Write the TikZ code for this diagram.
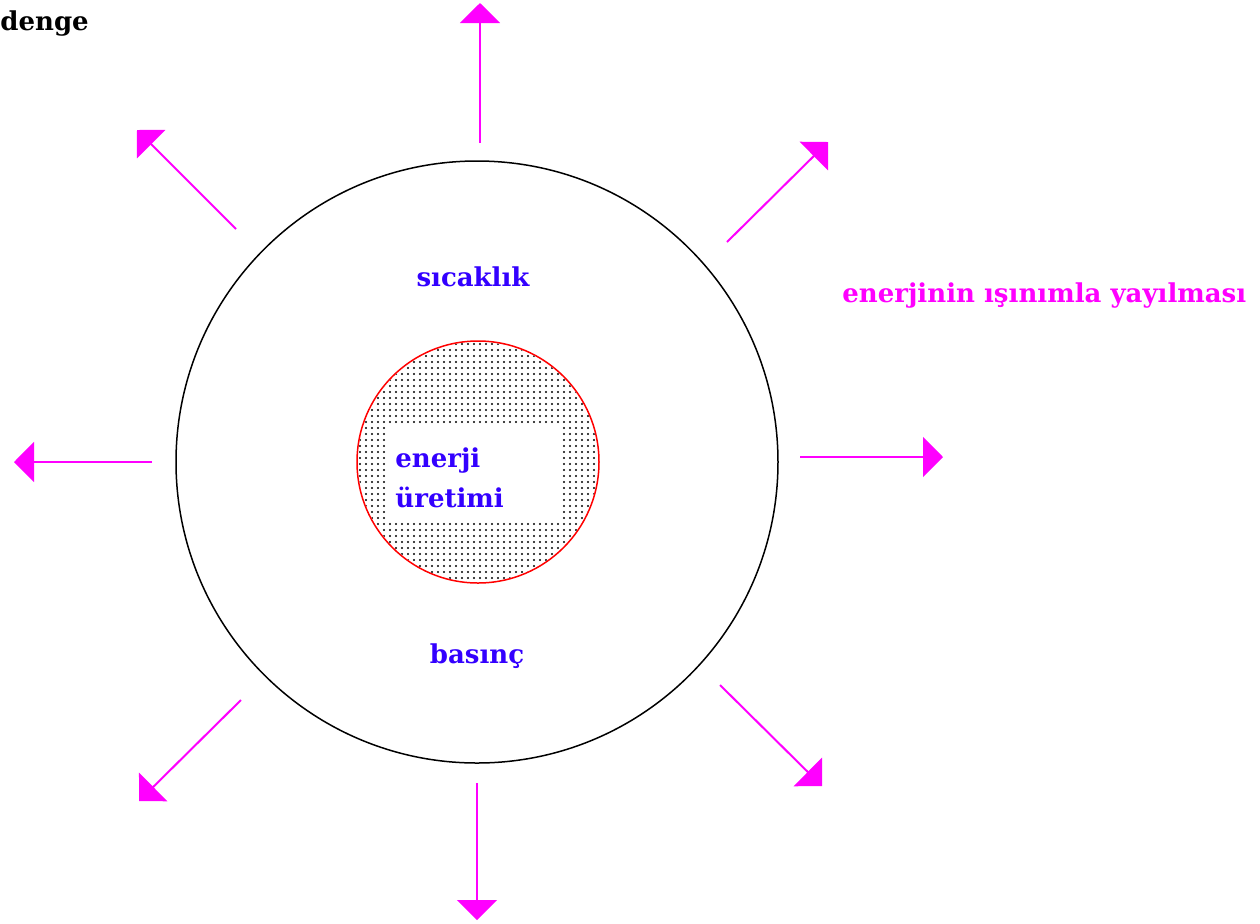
\documentclass[tikz,border=0pt]{standalone}
\usepackage{fontspec}
\setmainfont{DejaVu Serif}
\usepackage{xcolor}
\usepackage{tikz}
\usetikzlibrary{arrows.meta}

\definecolor{ink}{RGB}{51,0,255}
\definecolor{rayink}{RGB}{255,0,255}

\begin{document}
\begin{tikzpicture}[
          x=0.5pt, y=-0.5pt,
          every node/.style={font=\fontsize{13}{15}\selectfont\bfseries, inner sep=0pt},
          word/.style={text=ink},
          ray/.style={draw=rayink, line width=1pt, -{Triangle[length=10pt, width=20pt]}}
        ]
          \useasboundingbox (0,0) rectangle (1260,923);
          % dotted core
          \coordinate (mid) at (478,462);
          \begin{scope}
            \clip (mid) circle [radius=60pt];
            \foreach \i in {0,...,40}
              \foreach \j in {0,...,40}
                \fill (360+6*\i,344+6*\j) circle [radius=0.6pt];
          \end{scope}
          \fill[white] (386,424) rectangle (560,521);
          % star and its core
          \node[draw, circle, line width=0.75pt, minimum size=301pt] (star) at (477,462) {};
          \node[draw=red, circle, line width=0.75pt, minimum size=121pt] (core) at (mid) {};
          % labels
          \node[anchor=west] (denge) at (0,24) {denge};
          \node[word] (sicaklik) at (473,277) {sıcaklık};
          \node[word, anchor=west] (enerji) at (395,461) {enerji};
          \node[word, anchor=west] (uretim) at (395,497) {üretimi};
          \node[word] (basinc) at (477,656) {basınç};
          \node[text=rayink, anchor=west] (isinim) at (842,296) {enerjinin ışınımla yayılması};
          % radiation arrows
          \foreach \n/\sx/\sy/\ex/\ey in {n/480/143/480/3, s/477/783/477/920, w/152/462/14/462, e/800/457/943/457,
                                          nw/236/229/137/130, ne/727/242/828/142, sw/241/700/139/801, se/720/685/822/786} {
            \coordinate (a\n) at (\sx,\sy);
            \coordinate (b\n) at (\ex,\ey);
            \draw[ray] (a\n) -- (b\n);
          }
        \end{tikzpicture}
\end{document}
